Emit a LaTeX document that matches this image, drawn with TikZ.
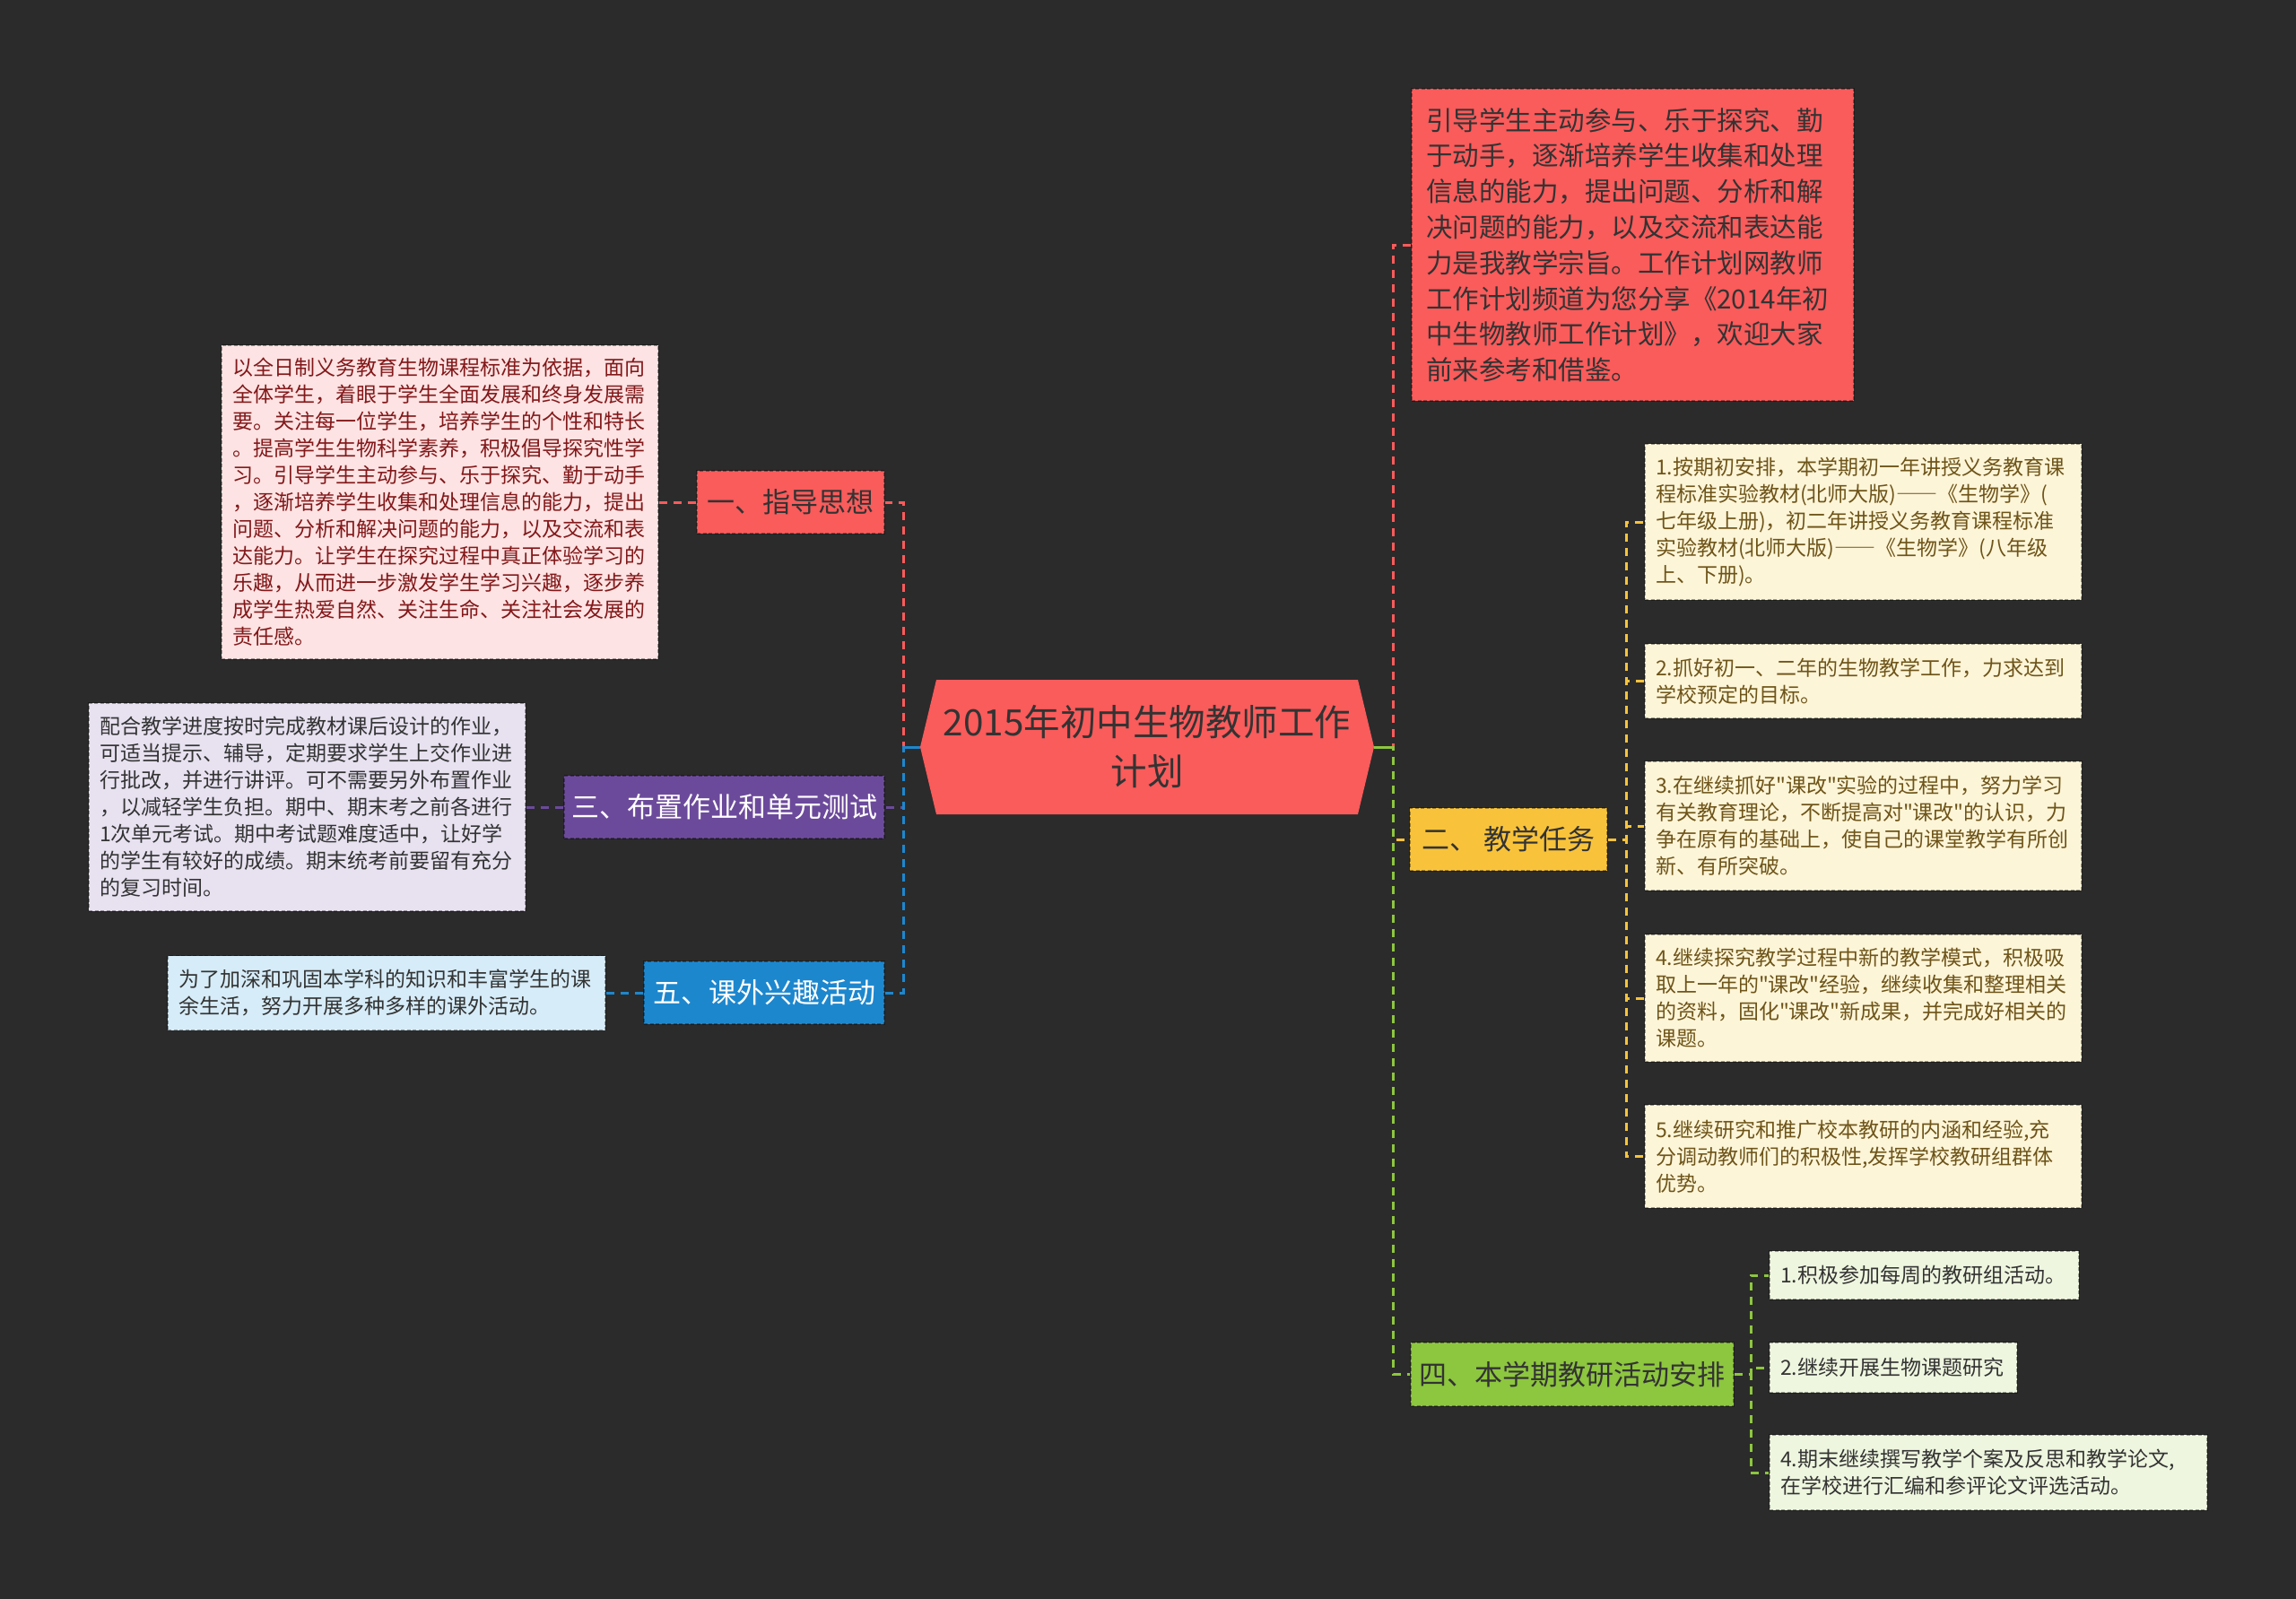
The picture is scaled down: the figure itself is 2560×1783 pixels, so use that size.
\documentclass[tikz,border=0pt]{standalone}
\usepackage{fontspec}
\setmainfont{Noto Sans CJK SC}[Ligatures=TeXOff]
\newfontfamily\fwdash{Noto Sans CJK SC}[RawFeature=+fwid]
\newcommand{\ddash}{{\fwdash ——}}
\usetikzlibrary{calc}
\definecolor{bg}{HTML}{2B2B2B}
\definecolor{dark}{HTML}{333333}
\definecolor{cred}{HTML}{FA5B5B}
\definecolor{cpink}{HTML}{FDE3E3}
\definecolor{cpinkt}{HTML}{82181A}
\definecolor{cpurple}{HTML}{6C4A9B}
\definecolor{clav}{HTML}{E7E1F0}
\definecolor{cblue}{HTML}{1D87CE}
\definecolor{clblue}{HTML}{D6ECF8}
\definecolor{cgold}{HTML}{F8C33B}
\definecolor{ccream}{HTML}{FDF5D8}
\definecolor{ccreamt}{HTML}{6E5419}
\definecolor{cgreen}{HTML}{8DC63F}
\definecolor{clgreen}{HTML}{EEF6DF}
\tikzset{
  base/.style={rectangle, draw=black, draw opacity=0.35, line width=1.6pt, dash pattern=on 4pt off 2.5pt},
  branch/.style={base, inner sep=0pt, minimum height=70pt, font=\fontsize{31}{36}\selectfont},
  leaf/.style={base, inner xsep=12pt, inner ysep=0pt, align=left, font=\fontsize{23}{30}\selectfont},
  conn/.style={line width=3pt, dash pattern=on 9pt off 7pt},
  stub/.style={line width=3pt}
}
\begin{document}
\begin{tikzpicture}[x=1pt,y=-1pt]
\fill[bg] (0,0) rectangle (2560,1783);
\useasboundingbox (0,0) rectangle (2560,1783);

% central topic
\coordinate (cc) at (1279,833);
\fill[cred] ($(cc)+(-253,0)$) -- ($(cc)+(-235,-75)$) -- ($(cc)+(235,-75)$) -- ($(cc)+(253,0)$) -- ($(cc)+(235,75)$) -- ($(cc)+(-235,75)$) -- cycle;
\node[inner sep=0pt, minimum width=506pt, minimum height=150pt, align=center, text=dark, font=\fontsize{40.5}{55}\selectfont] (c) at (cc) {2015年初中生物教师工作\\计划};

% left branches
\node[branch, fill=cred, text=dark, minimum width=209pt] (n1) at (881.5,560) {一、指导思想};
\node[leaf, fill=cpink, text=cpinkt, text width=463pt, minimum height=350pt] (l1) at (490.5,560) {以全日制义务教育生物课程标准为依据，面向\\全体学生，着眼于学生全面发展和终身发展需\\要。关注每一位学生，培养学生的个性和特长\\。提高学生生物科学素养，积极倡导探究性学\\习。引导学生主动参与、乐于探究、勤于动手\\，逐渐培养学生收集和处理信息的能力，提出\\问题、分析和解决问题的能力，以及交流和表\\达能力。让学生在探究过程中真正体验学习的\\乐趣，从而进一步激发学生学习兴趣，逐步养\\成学生热爱自然、关注生命、关注社会发展的\\责任感。};

\node[branch, fill=cpurple, text=white, minimum width=357pt] (n3) at (807.5,900) {三、布置作业和单元测试};
\node[leaf, fill=clav, text=dark, text width=463pt, minimum height=232pt] (l3) at (342.5,900) {配合教学进度按时完成教材课后设计的作业，\\可适当提示、辅导，定期要求学生上交作业进\\行批改，并进行讲评。可不需要另外布置作业\\，以减轻学生负担。期中、期末考之前各进行\\1次单元考试。期中考试题难度适中，让好学\\的学生有较好的成绩。期末统考前要留有充分\\的复习时间。};

\node[branch, fill=cblue, text=white, minimum width=268pt] (n5) at (852,1107) {五、课外兴趣活动};
\node[leaf, fill=clblue, text=dark, text width=464pt, minimum height=83pt] (l5) at (431,1107) {为了加深和巩固本学科的知识和丰富学生的课\\余生活，努力开展多种多样的课外活动。};

% right branches
\node[base, fill=cred, text=dark, inner xsep=16pt, inner ysep=0pt, align=left, text width=461pt, minimum height=348pt, font=\fontsize{29.5}{39.8}\selectfont] (r0) at (1820.5,273) {引导学生主动参与、乐于探究、勤\\于动手，逐渐培养学生收集和处理\\信息的能力，提出问题、分析和解\\决问题的能力，以及交流和表达能\\力是我教学宗旨。工作计划网教师\\工作计划频道为您分享《2014年初\\中生物教师工作计划》，欢迎大家\\前来参考和借鉴。};

\node[branch, fill=cgold, text=dark, minimum width=220pt] (n2) at (1682,936) {二、 教学任务};
\node[leaf, fill=ccream, text=ccreamt, text width=463pt, minimum height=174pt] (y1) at (2077.5,582) {1.按期初安排，本学期初一年讲授义务教育课\\程标准实验教材(北师大版)\ddash《生物学》(\\七年级上册)，初二年讲授义务教育课程标准\\实验教材(北师大版)\ddash《生物学》(八年级\\上、下册)。};
\node[leaf, fill=ccream, text=ccreamt, text width=463pt, minimum height=83pt] (y2) at (2077.5,759.5) {2.抓好初一、二年的生物教学工作，力求达到\\学校预定的目标。};
\node[leaf, fill=ccream, text=ccreamt, text width=463pt, minimum height=144pt] (y3) at (2077.5,921) {3.在继续抓好"课改"实验的过程中，努力学习\\有关教育理论，不断提高对"课改"的认识，力\\争在原有的基础上，使自己的课堂教学有所创\\新、有所突破。};
\node[leaf, fill=ccream, text=ccreamt, text width=463pt, minimum height=142pt] (y4) at (2077.5,1113) {4.继续探究教学过程中新的教学模式，积极吸\\取上一年的"课改"经验，继续收集和整理相关\\的资料，固化"课改"新成果，并完成好相关的\\课题。};
\node[leaf, fill=ccream, text=ccreamt, text width=463pt, minimum height=115pt] (y5) at (2077.5,1289.5) {5.继续研究和推广校本教研的内涵和经验,充\\分调动教师们的积极性,发挥学校教研组群体\\优势。};

\node[branch, fill=cgreen, text=dark, minimum width=360pt, minimum height=71pt] (n4) at (1753,1532.5) {四、本学期教研活动安排};
\node[leaf, fill=clgreen, text=dark, text width=321pt, minimum height=54pt] (g1) at (2145.5,1422) {1.积极参加每周的教研组活动。};
\node[leaf, fill=clgreen, text=dark, text width=252pt, minimum height=56pt] (g2) at (2111,1525) {2.继续开展生物课题研究};
\node[leaf, fill=clgreen, text=dark, text width=464pt, minimum height=84pt] (g4) at (2217,1642) {4.期末继续撰写教学个案及反思和教学论文,\\在学校进行汇编和参评论文评选活动。};

% spine coordinates
\coordinate (sL) at (1007,833);
\coordinate (sR) at (1553,833);
\coordinate (s2) at (1813,936);
\coordinate (s4) at (1952,1532.5);

% connectors, left
\draw[conn, cred] (c.west) -- (sL) |- (n1.east);
\draw[conn, cpurple] (c.west) -- (sL) |- (n3.east);
\draw[conn, cblue] (c.west) -- (sL) |- (n5.east);
\draw[stub, cblue] (c.west) -- (sL);
\draw[conn, cred] (n1.west) -- (l1.east);
\draw[conn, cpurple] (n3.west) -- (l3.east);
\draw[conn, cblue] (n5.west) -- (l5.east);

% connectors, right
\draw[conn, cred] (c.east) -- (sR) |- (r0.west);
\draw[conn, cgold] (c.east) -- (sR) |- (n2.west);
\draw[conn, cgreen] (c.east) -- (sR) |- (n4.west);
\draw[stub, cgreen] (c.east) -- (sR);

\draw[conn, cgold] (n2.east) -- (s2) |- (y1.west);
\draw[conn, cgold] (n2.east) -- (s2) |- (y2.west);
\draw[conn, cgold] (n2.east) -- (s2) |- (y3.west);
\draw[conn, cgold] (n2.east) -- (s2) |- (y4.west);
\draw[conn, cgold] (n2.east) -- (s2) |- (y5.west);

\draw[conn, cgreen] (n4.east) -- (s4) |- (g1.west);
\draw[conn, cgreen] (n4.east) -- (s4) |- (g2.west);
\draw[conn, cgreen] (n4.east) -- (s4) |- (g4.west);
\end{tikzpicture}
\end{document}
